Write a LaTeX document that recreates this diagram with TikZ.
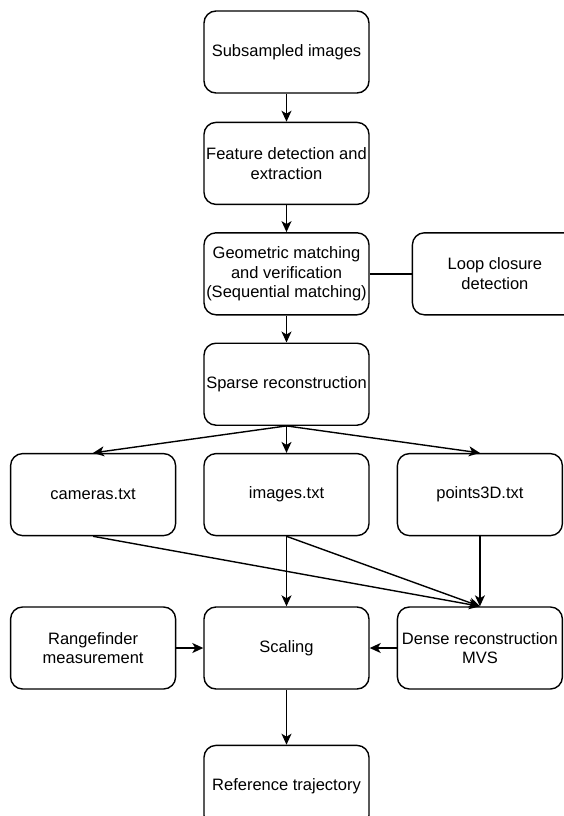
\documentclass[tikz,border=0pt]{standalone}
\usepackage{fontspec}
\setmainfont{Liberation Sans}
\usetikzlibrary{positioning,arrows.meta}

\begin{document}
\begin{tikzpicture}[
  node distance=28pt and 27pt,
  box/.style={rectangle, rounded corners=12pt, draw=black, line width=1.4pt, fill=white, align=center, minimum width=165pt, minimum height=82pt, inner sep=1pt, font=\fontsize{16.5}{19.5}\selectfont},
  arrow/.style={-{Stealth[length=11pt, width=10pt, inset=3pt]}, line width=1.4pt},
  link/.style={line width=1.4pt}
]
\useasboundingbox (0,0) rectangle (564pt,-816pt);

% Main column
\node[box] (subsampled) at (286.5pt,-52pt) {Subsampled images};
\node[box, below=of subsampled] (features) {Feature detection and\\extraction};
\node[box, below=27pt of features] (matching) {Geometric matching\\and verification\\(Sequential matching)};
\node[box, right=42pt of matching] (loopclosure) {Loop closure\\detection};
\node[box, below=27pt of matching] (sparse) {Sparse reconstruction};

% Output files of the sparse model
\node[box, below=27pt of sparse] (images) {images.txt};
\node[box, left=of images] (cameras) {cameras.txt};
\node[box, right=of images] (points) {points3D.txt};

% Scaling row
\node[box, below=70pt of images] (scaling) {Scaling};
\node[box, left=of scaling] (rangefinder) {Rangefinder\\measurement};
\node[box, right=of scaling] (dense) {Dense reconstruction\\MVS};
\node[box, below=55pt of scaling] (reference) {Reference trajectory};

% Arrows main pipeline
\draw[arrow] (subsampled) -- (features);
\draw[arrow] (features) -- (matching);
\draw[arrow] (matching) -- (sparse);
\draw[link] (matching) -- (loopclosure);

% Sparse model to files
\draw[arrow] (sparse.south) -- (cameras.north);
\draw[arrow] (sparse.south) -- (images.north);
\draw[arrow] (sparse.south) -- (points.north);

% Files to dense reconstruction and scaling
\draw[arrow] (cameras.south) -- (dense.north);
\draw[arrow] (images.south) -- (dense.north);
\draw[arrow] (points.south) -- (dense.north);
\draw[arrow] (images) -- (scaling);
\draw[arrow] (rangefinder) -- (scaling);
\draw[arrow] (dense) -- (scaling);
\draw[arrow] (scaling) -- (reference);

\end{tikzpicture}
\end{document}
